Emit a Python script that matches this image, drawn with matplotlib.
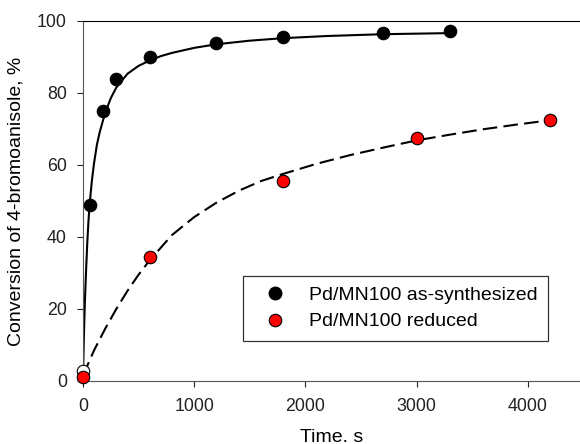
import matplotlib
matplotlib.use("Agg")
import matplotlib.pyplot as plt
from matplotlib.lines import Line2D

plt.rcParams["font.family"] = ["Liberation Sans", "DejaVu Sans"]

# measured points
t_syn = [0, 60, 180, 300, 600, 1200, 1800, 2700, 3300]
conv_syn = [2.9, 49.0, 75.0, 83.8, 89.9, 93.8, 95.4, 96.6, 97.1]
t_red = [0, 600, 1800, 3000, 4200]
conv_red = [1.0, 34.4, 55.6, 67.6, 72.5]

# fitted curves
fit_syn_t = [0, 5, 10, 15, 20, 30, 40, 50, 60, 80, 100, 125, 150, 200, 250,
             300, 400, 500, 600, 700, 800, 1000, 1200, 1500, 1800, 2200,
             2700, 3300]
fit_syn_y = [0, 7.5, 14, 19.5, 24, 32, 39, 44.5, 49, 55.5, 60.5, 65.5, 69,
             74.5, 78.5, 81.5, 85.3, 87.5, 89, 90.2, 91.1, 92.5, 93.5, 94.5,
             95.2, 95.8, 96.3, 96.6]
fit_red_t = [0, 50, 100, 200, 300, 400, 500, 600, 800, 1000, 1200, 1400,
             1600, 1800, 2100, 2400, 2700, 3000, 3300, 3600, 3900, 4200]
fit_red_y = [1.5, 5, 8.5, 14.5, 20, 25, 29.5, 33.5, 40.5, 45.5, 49.5, 52.8,
             55.5, 57.5, 60.3, 62.7, 64.8, 66.8, 68.4, 69.9, 71.2, 72.4]

fig = plt.figure(figsize=(5.8, 4.44), dpi=100)
ax = fig.add_axes([0.143, 0.142, 0.857, 0.811])

ax.plot(fit_syn_t, fit_syn_y, color="black", lw=1.5, zorder=2)
ax.plot(fit_red_t, fit_red_y, color="black", lw=1.5, ls=(0, (7, 3)), zorder=2)

ax.plot(t_syn[:1], conv_syn[:1], "o", ms=9, mfc="white", mec="black",
        mew=0.8, zorder=3, clip_on=False)
ax.plot(t_syn[1:], conv_syn[1:], "o", ms=9, mfc="black", mec="black",
        mew=0.8, zorder=3, clip_on=False)
ax.plot(t_red, conv_red, "o", ms=9, mfc="red", mec="black", mew=0.8,
        zorder=4, clip_on=False)

ax.set_xlim(0, 4470)
ax.set_ylim(0, 100)
ax.set_xticks([0, 1000, 2000, 3000, 4000])
ax.set_yticks([0, 20, 40, 60, 80, 100])
ax.tick_params(direction="out", length=4.5, width=0.8, labelsize=12.8,
               colors="#222222")
ax.tick_params(axis="x", pad=7.5)
ax.tick_params(axis="y", pad=7)
ax.spines["right"].set_visible(False)
ax.spines["left"].set_color("#555555")
ax.spines["bottom"].set_color("#555555")
ax.spines["top"].set_color("black")

ax.set_xlabel("Time. s", fontsize=14, labelpad=10)
ax.set_ylabel("Conversion of 4-bromoanisole, %", fontsize=14, labelpad=9)

handles = [
    Line2D([], [], ls="", marker="o", ms=9, mfc="black", mec="black"),
    Line2D([], [], ls="", marker="o", ms=9, mfc="red", mec="black", mew=0.8),
]
leg = ax.legend(handles, ["Pd/MN100 as-synthesized", "Pd/MN100 reduced"],
                loc="upper left", bbox_to_anchor=(0.322, 0.292),
                fontsize=14, frameon=True, fancybox=False, edgecolor="black",
                handletextpad=0.62, borderpad=0.55, labelspacing=0.45,
                handlelength=2.2, borderaxespad=0)
leg.get_frame().set_linewidth(0.9)

fig.savefig("out.png", dpi=100)
